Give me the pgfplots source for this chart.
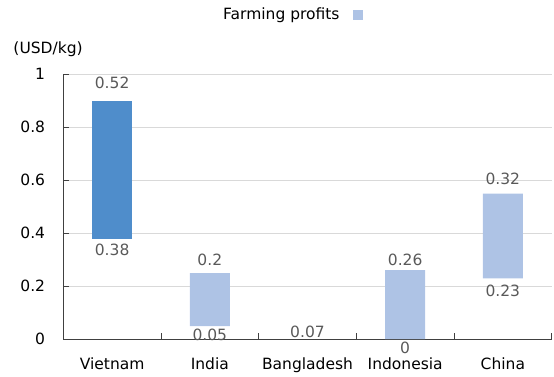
\documentclass[border=0pt]{standalone}
\usepackage{pgfplots}
\pgfplotsset{compat=1.18}
\usepackage{pgfplotstable}
\usepackage{fontspec}
\setmainfont{DejaVu Sans}
\definecolor{vn}{RGB}{79,141,203}
\definecolor{lb}{RGB}{174,195,229}
\definecolor{lab}{RGB}{89,89,89}
\definecolor{gridc}{RGB}{217,217,217}
\definecolor{axc}{RGB}{64,64,64}

\pgfplotstableread{
x base  vn   oth  blab vlab tlab boff  voff toff
0 0.38  0.52 0    0.38 0.52 {}   -16.4 12.5 0
1 0.05  0    0.20 0.05 {}   0.2  -14.0 0    7.4
2 0.07  0    0    0.07 {}   {}   -16.5 0    0
3 0.001 0    0.26 0    {}   0.26 -14.0 0    4.7
4 0.23  0    0.32 0.23 {}   0.32 -18.3 0    9.5
}\datatable

\begin{document}
\begin{tikzpicture}[font=\fontsize{15.5}{18}\selectfont]
\useasboundingbox (-63.3pt,-36.7pt) rectangle (490.7pt,339.3pt);
\begin{axis}[
  at={(0pt,0pt)}, anchor=south west,
  scale only axis, width=488.4pt, height=265pt,
  clip=false,
  ybar stacked, bar width=40pt,
  xmin=-0.5, xmax=4.5, ymin=0, ymax=1,
  xtick={-0.5,0.5,1.5,2.5,3.5,4.5},
  x tick label as interval,
  xticklabels={Vietnam,India,Bangladesh,Indonesia,China},
  ytick={0,0.2,0.4,0.6,0.8,1},
  yticklabels={0,0.2,0.4,0.6,0.8,1},
  ymajorgrids, grid style={gridc, line width=1.2pt},
  axis x line*=bottom, axis y line*=left,
  axis line style={axc, line width=0.8pt},
  tick align=inside, major tick length=6pt,
  tick style={axc, line width=0.8pt},
  yticklabel style={inner sep=0pt, anchor=east, xshift=-18pt, text=black},
  xticklabel style={inner sep=0pt, anchor=base, yshift=-30pt, text=black},
  legend style={at={(0.468,1.2257)}, anchor=center, draw=none, fill=none,
    font=\fontsize{15.5}{18}\selectfont},
  legend plot pos=right,
  legend image code/.code={\path (0pt,0pt); \fill[lb] (11pt,-5.4pt) rectangle (21pt,4.6pt);},
]
\addplot[draw=none, fill=none, forget plot,
  nodes near coords, point meta=explicit symbolic,
  visualization depends on={\thisrow{boff}+132.5*\thisrow{base}\as\boff},
  every node near coord/.append style={anchor=base, yshift=\boff, text=lab, inner sep=0pt}]
  table[x=x, y=base, meta=blab] {\datatable};
\addplot[draw=none, fill=vn, forget plot,
  nodes near coords, point meta=explicit symbolic,
  visualization depends on={\thisrow{voff}+132.5*\thisrow{vn}\as\voff},
  every node near coord/.append style={anchor=base, yshift=\voff, text=lab, inner sep=0pt}]
  table[x=x, y=vn, meta=vlab] {\datatable};
\addplot[draw=none, fill=lb,
  nodes near coords, point meta=explicit symbolic,
  visualization depends on={\thisrow{toff}+132.5*\thisrow{oth}\as\toff},
  every node near coord/.append style={anchor=base, yshift=\toff, text=lab, inner sep=0pt}]
  table[x=x, y=oth, meta=tlab] {\datatable};
\addlegendentry{Farming profits}
\node[anchor=west, inner sep=0pt, xshift=-50pt] at (rel axis cs:0,1.0955) {(USD/kg)};
\end{axis}
\end{tikzpicture}
\end{document}
